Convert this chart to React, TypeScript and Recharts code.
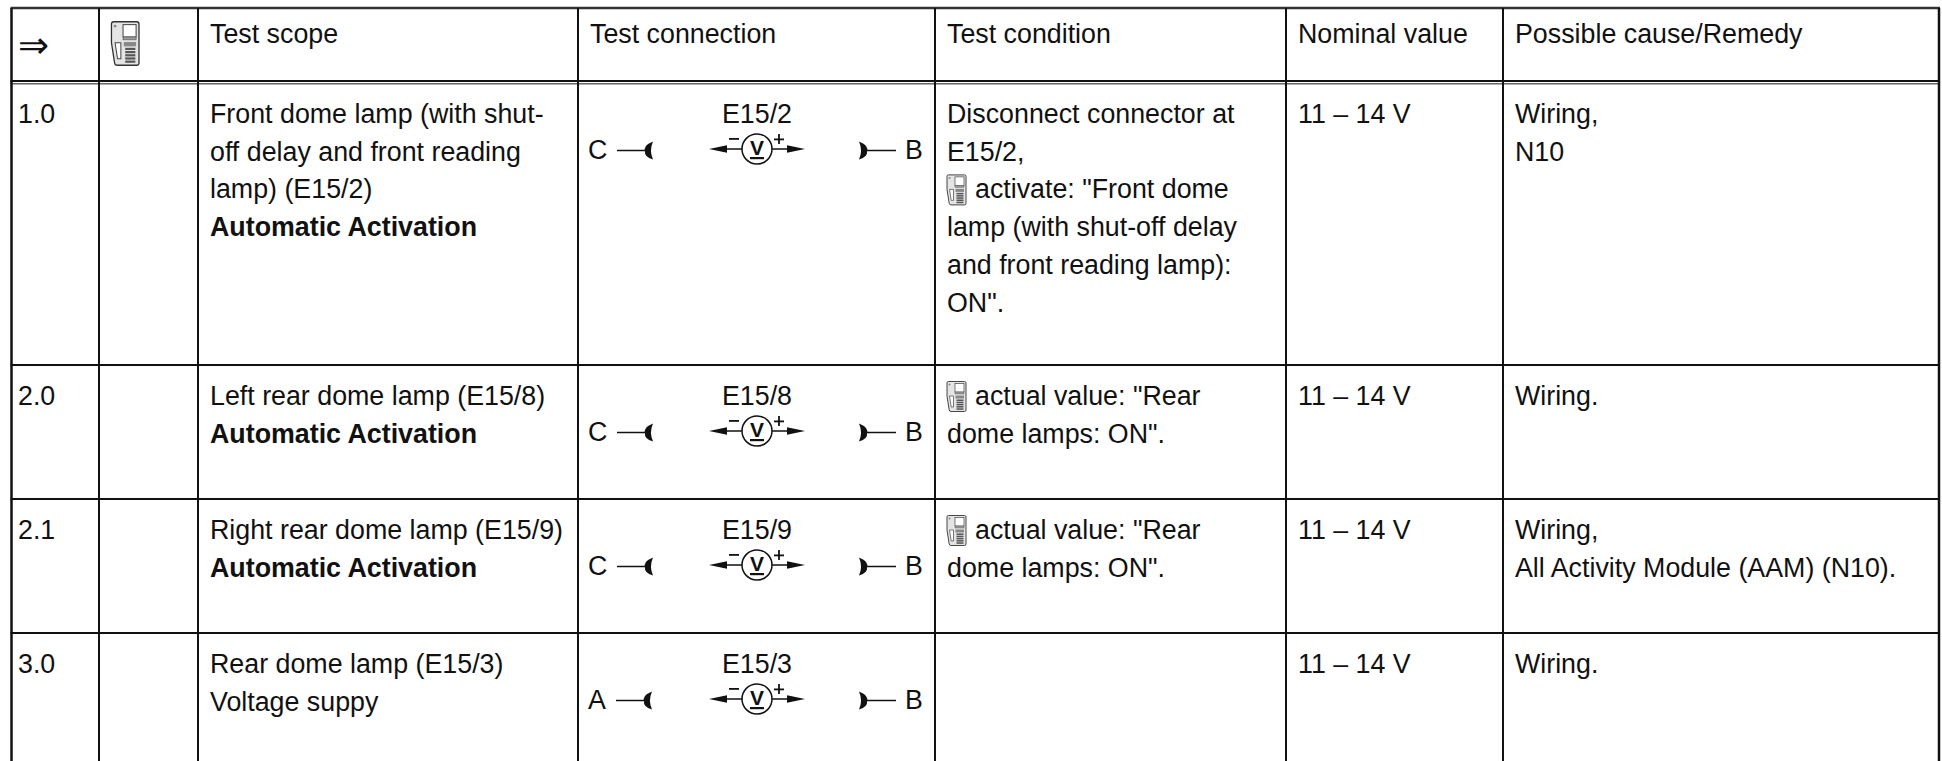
import React from "react";
import { ComposedChart, XAxis, YAxis, Scatter, ReferenceLine } from "recharts";

const W = 1942;
const H = 761;
const FONT = "'Liberation Sans', Arial, sans-serif";

// table content
const headers = ["Test scope", "Test connection", "Test condition", "Nominal value", "Possible cause/Remedy"];
const stepLabels = ["1.0", "2.0", "2.1", "3.0"];
const scopeLines = [
  ["Front dome lamp (with shut-", "off delay and front reading", "lamp) (E15/2)", "*Automatic Activation"],
  ["Left rear dome lamp (E15/8)", "*Automatic Activation"],
  ["Right rear dome lamp (E15/9)", "*Automatic Activation"],
  ["Rear dome lamp (E15/3)", "Voltage suppy"],
];
const measurePoints = ["E15/2", "E15/8", "E15/9", "E15/3"];
const leftPins = ["C", "C", "C", "A"];
const rightPins = ["B", "B", "B", "B"];
const conditionLines = [
  ["Disconnect connector at", "E15/2,", "@activate: \"Front dome", "lamp (with shut-off delay", "and front reading lamp):", "ON\"."],
  ["@actual value: \"Rear", "dome lamps: ON\"."],
  ["@actual value: \"Rear", "dome lamps: ON\"."],
  [],
];
const nominalValues = ["11 – 14 V", "11 – 14 V", "11 – 14 V", "11 – 14 V"];
const causeLines = [
  ["Wiring,", "N10"],
  ["Wiring."],
  ["Wiring,", "All Activity Module (AAM) (N10)."],
  ["Wiring."],
];

// table frame, on the pixel-valued axes
const colEdges = [11.5, 99, 198, 578, 935, 1286, 1503, 1939];
const rowEdges = [83, 365, 499, 633];
const tableTop = 8;
const tableRight = 1940;
const lineStep = 37.7;
const firstBaseline = 40;

type T = { x: number; y: number; text: string; bold?: boolean; anchor?: string; size?: number };
const texts: T[] = [];
const inlineIcons: { x: number; y: number; scale: number }[] = [];
const meters: { x: number; y: number }[] = [];
const leftPlugs: { x: number; y: number }[] = [];
const rightPlugs: { x: number; y: number }[] = [];

const pad = 12;
headers.forEach((h, i) => texts.push({ x: colEdges[i + 2] + pad, y: 43, text: h }));
texts.push({ x: 18, y: 58, text: "⇒", size: 37 });
inlineIcons.push({ x: 110, y: 21, scale: 1.45 });

function putLines(col: number, row: number, lines: string[]) {
  lines.forEach((l, k) => {
    const y = rowEdges[row] + firstBaseline + k * lineStep;
    let x = colEdges[col] + pad;
    let s = l;
    if (s.startsWith("*")) {
      texts.push({ x, y, text: s.slice(1), bold: true });
      return;
    }
    if (s.startsWith("@")) {
      inlineIcons.push({ x: x - 1, y: y - 24, scale: 1 });
      x += 28;
      s = s.slice(1);
    }
    texts.push({ x, y, text: s });
  });
}

stepLabels.forEach((s, r) => {
  const base = rowEdges[r] + firstBaseline;
  texts.push({ x: 18, y: base, text: s });
  putLines(2, r, scopeLines[r]);
  putLines(4, r, conditionLines[r]);
  putLines(5, r, [nominalValues[r]]);
  putLines(6, r, causeLines[r]);
  texts.push({ x: 757, y: base, text: measurePoints[r], anchor: "middle" });
  texts.push({ x: 588, y: base + 36, text: leftPins[r] });
  texts.push({ x: 905, y: base + 36, text: rightPins[r] });
  meters.push({ x: 757, y: base + 26 });
  leftPlugs.push({ x: leftPins[r] === "A" ? 644 : 645, y: base + 27.5 });
  rightPlugs.push({ x: 867, y: base + 27.5 });
});

const TextShape = (p: any) => {
  const d = p.payload as T;
  return (
    <text
      x={p.cx}
      y={p.cy}
      fontFamily={d.text === "⇒" ? "'DejaVu Sans', sans-serif" : FONT}
      fontSize={d.size ?? 26.8}
      fontWeight={d.bold ? 700 : 400}
      textAnchor={(d.anchor as any) ?? "start"}
      fill="#111"
    >
      {d.text}
    </text>
  );
};

const IconShape = (p: any) => {
  const s = p.payload.scale;
  const rows = [0, 1, 2, 3, 4];
  return (
    <g transform={`translate(${p.cx},${p.cy}) scale(${s})`}>
      <path
        d="M1 2 Q1 0.5 2.5 0.5 H18.5 Q20 0.5 20 2 V29 Q20 30.5 18.5 30.5 H5 Q3.5 30.5 3.2 29 L1 15 Z"
        fill="#e4e4e4"
        stroke="#333"
        strokeWidth={0.9}
      />
      <rect x={9} y={2.5} width={9} height={8.5} fill="#fff" stroke="#444" strokeWidth={0.7} />
      <rect x={9} y={11} width={9} height={2} fill="#999" stroke="#555" strokeWidth={0.4} />
      <circle cx={3.5} cy={3.5} r={1} fill="#888" />
      <path d="M3.5 15 H7.5 V26 H5.2 Z" fill="#fff" stroke="#444" strokeWidth={0.7} />
      <rect x={9.5} y={14.5} width={8.5} height={3} fill="#888" />
      {rows.map((r) => (
        <rect key={r} x={10.5} y={18.5 + r * 2.2} width={7} height={1.5} fill="#555" />
      ))}
    </g>
  );
};

const MeterShape = (p: any) => (
  <g transform={`translate(${p.cx},${p.cy})`} fill="#111" stroke="none">
    <circle r={15} fill="#fff" stroke="#111" strokeWidth={1.5} />
    <line x1={-30} x2={-15} y1={0} y2={0} stroke="#111" strokeWidth={1.5} />
    <line x1={15} x2={30} y1={0} y2={0} stroke="#111" strokeWidth={1.5} />
    <polygon points="-48,0 -30,-3.8 -30,3.8" />
    <polygon points="48,0 30,-3.8 30,3.8" />
    <rect x={-28} y={-11} width={10} height={1.8} />
    <rect x={17} y={-10.5} width={10} height={1.8} />
    <rect x={21.1} y={-15} width={1.8} height={10} />
    <text x={0} y={5.5} textAnchor="middle" fontFamily={FONT} fontWeight={700} fontSize={21}>V</text>
    <rect x={-7} y={8} width={14} height={2.2} />
  </g>
);

const LeftPlugShape = (p: any) => (
  <g transform={`translate(${p.cx},${p.cy})`}>
    <line x1={-28} x2={1} y1={0} y2={0} stroke="#111" strokeWidth={1.5} />
    <path d="M8 -9 Q-2 -5 0 1 Q-1 6 8 9 Q4 0 8 -9 Z" fill="#111" />
  </g>
);

const RightPlugShape = (p: any) => (
  <g transform={`translate(${p.cx},${p.cy})`}>
    <line x1={-1} x2={29} y1={0} y2={0} stroke="#111" strokeWidth={1.5} />
    <path d="M-8 -9 Q2 -5 0 1 Q1 6 -8 9 Q-4 0 -8 -9 Z" fill="#111" />
  </g>
);

export default function App() {
  return (
    <div style={{ position: "absolute", left: 0, top: 0, width: W, height: H, background: "#fff" }}>
      <ComposedChart width={W} height={H} margin={{ top: 0, right: 0, bottom: 0, left: 0 }} data={[]}>
        <XAxis type="number" dataKey="x" domain={[0, W]} hide />
        <YAxis type="number" dataKey="y" domain={[0, H]} reversed hide />
        {/* horizontal rules */}
        <ReferenceLine segment={[{ x: colEdges[0] - 1, y: tableTop }, { x: tableRight, y: tableTop }]} stroke="#333" strokeWidth={2.5} ifOverflow="visible" />
        <ReferenceLine segment={[{ x: colEdges[0] - 1, y: 81 }, { x: tableRight, y: 81 }]} stroke="#111" strokeWidth={2} ifOverflow="visible" />
        <ReferenceLine segment={[{ x: colEdges[0] - 1, y: 83.7 }, { x: tableRight, y: 83.7 }]} stroke="#666" strokeWidth={1.6} ifOverflow="visible" />
        {rowEdges.slice(1).map((y) => (
          <ReferenceLine key={y} segment={[{ x: colEdges[0] - 1, y }, { x: tableRight, y }]} stroke="#111" strokeWidth={2} ifOverflow="visible" />
        ))}
        {/* vertical rules */}
        {colEdges.map((x, i) => (
          <ReferenceLine key={x} segment={[{ x, y: tableTop }, { x, y: H }]} stroke="#111" strokeWidth={i === 0 || i === colEdges.length - 1 ? 2.5 : 2} ifOverflow="visible" />
        ))}
        <Scatter data={inlineIcons} shape={IconShape} isAnimationActive={false} />
        <Scatter data={meters} shape={MeterShape} isAnimationActive={false} />
        <Scatter data={leftPlugs} shape={LeftPlugShape} isAnimationActive={false} />
        <Scatter data={rightPlugs} shape={RightPlugShape} isAnimationActive={false} />
        <Scatter data={texts} shape={TextShape} isAnimationActive={false} />
      </ComposedChart>
    </div>
  );
}
